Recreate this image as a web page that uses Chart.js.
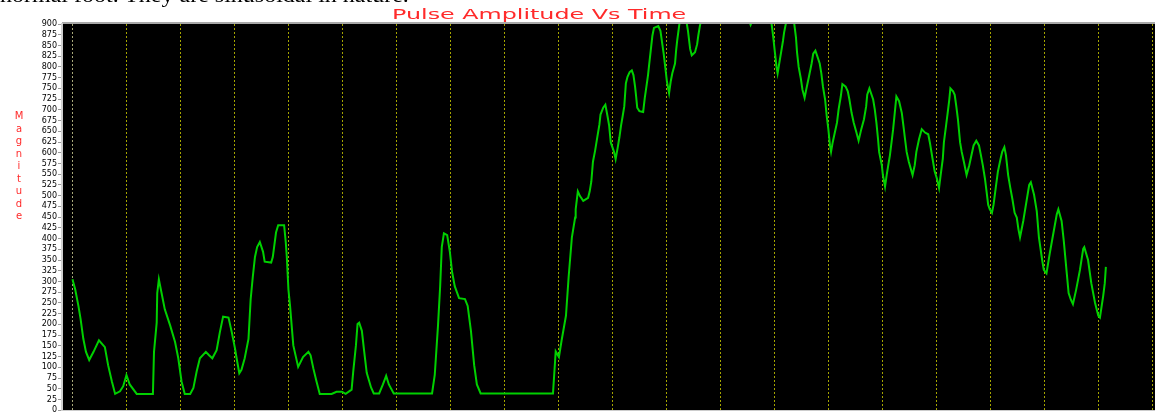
<!DOCTYPE html>
<html>
<head>
<meta charset="utf-8">
<title>Pulse Amplitude Vs Time</title>
<script src="https://cdn.jsdelivr.net/npm/chart.js@4.4.1/dist/chart.umd.min.js"></script>
<style>
  body { margin: 0; background: #fff; overflow: hidden; }
  #wrap { position: relative; width: 1155px; height: 416px; }
  #doc { position: absolute; left: 0; top: -15px; font: 20px "Liberation Serif", serif; line-height: 20px;
         white-space: nowrap; transform: scaleX(1.2); transform-origin: left top; color: #000; }
  #ttl { position: absolute; left: 392px; top: 7px; font: 14px "DejaVu Sans", sans-serif; line-height: 14px;
         color: #ff2a2a; white-space: nowrap; transform: scaleX(1.7); transform-origin: left top; }
  #ylab { position: absolute; left: 12px; top: 110px; width: 14px; font: 10px "DejaVu Sans", sans-serif;
          line-height: 12.5px; color: #ff2a2a; text-align: center; }
  canvas { position: absolute; left: 0; top: 0; }
</style>
</head>
<body>
<div id="wrap">
  <canvas id="myChart" width="1155" height="416"></canvas>
  <div id="doc">normal foot. They are sinusoidal in nature.</div>
  <div id="ttl">Pulse Amplitude Vs Time</div>
  <div id="ylab">M<br>a<br>g<br>n<br>i<br>t<br>u<br>d<br>e</div>
</div>
<script>
// tiempo (muestras)
var times = [0.0,0.5,1.1,1.5,2.0,2.5,3.1,3.9,4.9,6.0,6.6,7.3,7.9,8.8,9.4,10.0,10.6,11.9,
  14.9,15.1,15.6,15.7,16.0,16.5,17.1,18.1,19.0,19.6,20.2,20.8,21.8,
  22.4,23.0,23.6,24.7,25.3,25.9,26.7,27.3,27.9,28.9,29.5,30.1,30.4,30.9,31.3,31.9,32.6,33.0,33.4,
  33.8,34.2,34.7,35.3,35.6,36.8,37.1,37.7,38.1,39.2,39.5,39.7,
  40.0,40.3,40.9,41.8,42.7,43.7,44.1,44.6,45.2,45.8,48.0,48.9,49.9,50.6,51.7,52.0,52.5,52.8,53.1,
  53.6,54.0,54.5,55.3,55.8,56.8,57.5,58.1,58.6,59.5,66.6,
  67.1,67.7,68.1,68.4,68.8,69.4,69.9,70.3,70.8,71.6,72.7,73.2,73.8,74.4,74.9,75.6,
  89.0,89.5,90.1,90.6,91.4,91.9,92.5,93.1,
  93.2,93.6,94.0,94.6,95.5,95.8,96.1,96.4,96.8,97.2,97.6,97.8,98.3,98.7,99.1,99.4,99.7,100.3,100.6,101.0,
  101.3,101.6,101.9,102.2,102.5,102.8,103.2,103.6,103.9,104.2,104.4,104.6,105.0,105.7,
  106.0,106.3,106.6,106.8,107.1,107.4,107.7,108.5,108.9,109.2,109.5,109.9,110.1,110.5,110.8,111.1,111.6,
  111.8,112.0,112.4,113.1,113.7,114.0,114.4,114.7,115.3,115.7,115.9,116.2,
  117.1,119.5,122.7,124.7,125.6,126.6,128.1,129.5,129.8,130.1,130.4,130.6,130.9,131.3,131.6,131.8,132.1,132.9,133.7,134.0,
  134.2,134.5,134.9,135.2,135.6,135.9,136.4,136.9,137.2,137.6,
  137.9,138.4,138.7,139.0,139.4,139.7,140.0,140.3,140.5,140.8,
  141.2,141.6,141.9,142.3,142.6,143.2,143.6,143.9,144.3,144.7,
  145.2,145.6,146.1,146.6,147.0,147.2,147.6,148.0,148.3,148.6,
  148.9,149.2,149.4,149.9,150.1,150.5,150.8,151.1,151.4,151.7,
  152.0,152.3,152.6,153.1,153.6,153.9,154.2,154.5,154.9,155.6,
  156.0,156.3,156.8,157.3,157.9,158.5,158.8,159.3,159.7,160.1,
  160.5,160.8,161.2,161.4,161.8,162.1,162.4,162.6,163.1,163.4,
  163.7,164.0,164.4,164.7,165.1,165.6,166.1,166.5,166.9,167.4,
  167.9,168.2,168.6,169.0,169.3,169.6,169.9,170.3,170.6,171.0,
  171.4,171.9,172.2,172.6,172.9,173.3,173.7,174.1,174.5,174.9,
  175.2,175.5,176.1,176.7,177.2,177.5,178.1,178.6,179.0,179.6,
  179.9,180.4,181.0,181.6,182.3,182.6,183.2,183.6,184.1,184.5,
  184.9,185.3,185.9,186.6,187.2,187.4,188.1,188.7,189.4,190.0,
  190.3,190.9,191.2,191.4];

// magnitud del pulso
var magnitude = [305,282,243,213,167,136,117,136,163,147,105,67,38,44,56,82,60,38,
  38,136,204,273,305,273,235,197,159,121,67,38,38,
  52,90,121,136,128,121,140,182,218,216,182,144,121,86,94,121,166,258,311,
  357,380,392,369,346,344,357,414,431,431,392,357,
  281,243,151,101,124,136,128,98,67,38,38,43,43,38,48,90,151,201,204,
  185,140,87,53,39,39,60,80,60,39,39,
  82,197,289,380,412,408,369,323,289,261,259,243,185,105,60,39,
  39,137,124,163,220,311,403,449,
  468,510,499,488,495,510,533,579,605,636,666,689,705,712,685,663,624,602,585,613,
  636,663,685,708,762,777,788,792,781,754,731,705,697,695,
  728,754,781,804,838,872,891,895,884,857,831,788,766,739,766,785,808,
  838,861,899,941,907,884,842,827,834,853,872,895,
  953,998,953,930,898,930,976,899,869,834,800,785,808,838,861,880,899,941,899,869,
  834,800,773,747,728,747,777,808,831,838,
  827,808,785,754,724,685,655,617,602,624,
  647,670,701,731,760,754,743,724,693,670,
  647,628,655,678,708,735,750,735,724,701,
  670,632,602,571,548,521,548,571,594,624,
  655,693,731,720,693,663,632,602,579,548,
  571,602,632,655,647,643,624,586,556,540,
  518,548,586,624,663,693,724,750,743,735,
  708,678,624,602,579,548,571,594,617,628,
  617,598,571,540,510,479,468,460,479,518,
  556,586,602,613,594,548,518,491,460,449,
  422,403,441,487,525,531,502,464,403,350,
  327,319,365,407,456,468,441,395,327,273,
  258,247,281,327,376,380,350,296,250,220,
  216,266,296,334];

// limites de los ejes
var tMin = -1.94, tMax = 200.5;
var yMin = 0, yMax = 900, yStep = 25;

var puntos = times.map(function (t, i) {
    return { x: t, y: magnitude[i] };
});

// fondo negro del area de grafica
var fondoNegro = {
    id: 'fondoNegro',
    beforeDraw: function (chart) {
        var a = chart.chartArea, ctx = chart.ctx;
        ctx.save();
        ctx.fillStyle = '#000';
        ctx.fillRect(a.left, a.top, a.right - a.left, a.bottom - a.top);
        ctx.strokeStyle = '#a8a8a8';
        ctx.lineWidth = 2;
        ctx.beginPath();
        ctx.moveTo(a.left, a.top - 1);
        ctx.lineTo(a.right, a.top - 1);
        ctx.stroke();
        ctx.restore();
    }
};

var ctx = document.getElementById('myChart').getContext('2d');
var myChart = new Chart(ctx, {
    type: 'line',
    data: {
        datasets: [{
            label: 'Magnitude',
            data: puntos,
            borderColor: '#00d000',
            borderWidth: 2,
            pointRadius: 0,
            tension: 0,
            fill: false
        }]
    },
    options: {
        responsive: false,
        animation: false,
        devicePixelRatio: 1,
        layout: { padding: { top: 24, left: 0, right: 0, bottom: 0 } },
        plugins: {
            legend: { display: false },
            title: { display: false },
            tooltip: { enabled: false }
        },
        scales: {
            x: {
                type: 'linear',
                min: tMin,
                max: tMax,
                ticks: { display: false, stepSize: 10, includeBounds: false },
                grid: {
                    drawTicks: false,
                    lineWidth: 1,
                    color: function (c) {
                        var v = c.tick ? c.tick.value : 1;
                        if (Math.abs(v) < 0.01) return '#a8a878';
                        return (Math.abs(v % 10) < 0.01) ? '#a4a400' : 'rgba(0,0,0,0)';
                    }
                },
                border: { display: false, dash: [2, 2] },
                afterFit: function (s) { s.height = 0; }
            },
            y: {
                min: yMin,
                max: yMax,
                ticks: {
                    stepSize: yStep,
                    autoSkip: false,
                    color: '#000',
                    padding: 1,
                    font: { family: 'DejaVu Sans', size: 8 }
                },
                grid: { drawOnChartArea: false, drawTicks: true, tickLength: 4, color: '#9a9a9a' },
                border: { display: true, color: '#d0d0d0', width: 2 },
                afterFit: function (s) { s.width = 62; }
            }
        }
    },
    plugins: [fondoNegro]
});
</script>
</body>
</html>
